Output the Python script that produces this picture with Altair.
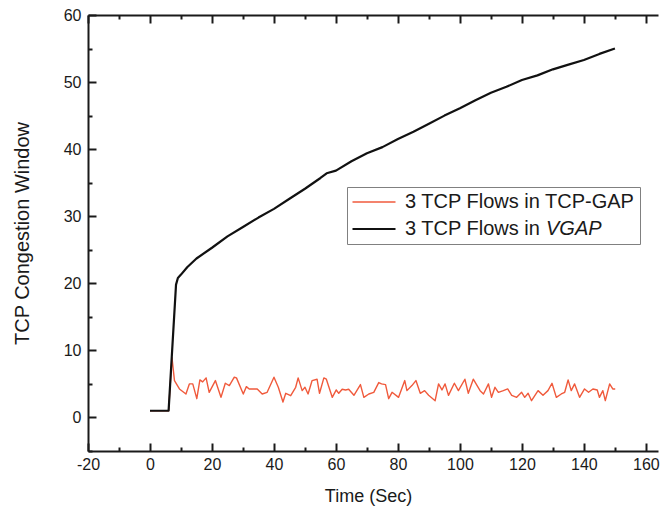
import altair as alt
import pandas as pd

# ---- data ----
black_t = [0, 6, 8.4, 9, 10, 12, 15, 20, 25, 30,
           35, 40, 45, 50, 55, 57, 60, 65, 70, 75,
           80, 85, 90, 95, 100, 105, 110, 115, 120, 125,
           130, 135, 140, 145, 150]
black_v = [1, 1, 19.8, 20.8, 21.3, 22.4, 23.7, 25.3, 27.0, 28.4,
           29.8, 31.1, 32.6, 34.1, 35.7, 36.4, 36.8, 38.2, 39.4, 40.3,
           41.5, 42.6, 43.8, 45.0, 46.1, 47.3, 48.4, 49.3, 50.3, 51.0,
           51.9, 52.6, 53.3, 54.2, 55.0]

red_t = [0, 6, 7.1, 7.9, 9.5, 11.6, 12.7, 13.8, 15.1, 16.1,
         17, 18.1, 19.1, 21.1, 22.9, 24.3, 25.6, 27.2, 27.9, 30.1,
         31.1, 32, 34.6, 36.2, 37.8, 40, 41.4, 42.9, 43.8, 45.4,
         47, 47.8, 49.1, 50, 51, 52.3, 53.9, 54.7, 56.1, 56.9,
         58.8, 60.1, 60.9, 62, 63.1, 64.1, 65.8, 67.9, 69, 70.6,
         72.2, 73.8, 74.7, 76, 77, 78.1, 80.2, 82.2, 82.9, 84.5,
         85.8, 87.2, 88.6, 89.9, 92, 93.1, 94.2, 95.2, 96.3, 98.2,
         99.5, 101.6, 102.7, 104.3, 106.5, 107.6, 109.2, 110.2, 111.3, 112.4,
         114, 115.4, 116.7, 118.3, 119.9, 120.9, 122, 123.1, 125.2, 126.8,
         128.4, 129.7, 131.1, 132.7, 133.8, 134.9, 135.9, 137, 138.6, 140.2,
         141.5, 142.9, 144.3, 145, 146.1, 146.9, 148.3, 149.3, 150.1]
red_v = [1, 1, 8.9, 5.5, 4.25, 3.5, 5.0, 5.0, 2.8, 5.6,
         5.3, 5.9, 3.75, 5.5, 3.0, 5.1, 4.75, 6.0, 5.9, 3.5,
         4.6, 4.25, 4.25, 3.5, 3.75, 6.0, 4.5, 2.3, 3.6, 3.25,
         4.5, 5.9, 4.0, 4.5, 3.5, 5.5, 5.7, 3.6, 5.9, 5.7,
         3.0, 4.1, 3.6, 4.2, 4.1, 4.2, 3.3, 4.9, 3.0, 3.5,
         3.75, 5.2, 5.0, 4.9, 2.8, 3.75, 3.0, 5.5, 4.0, 4.75,
         5.5, 3.6, 4.0, 3.3, 2.5, 5.0, 4.1, 5.0, 3.3, 5.1,
         4.0, 5.7, 3.6, 5.7, 4.0, 3.5, 5.0, 3.0, 4.5, 3.75,
         4.0, 4.25, 3.3, 3.0, 3.75, 3.0, 3.6, 2.5, 4.0, 3.3,
         4.0, 5.1, 3.0, 3.5, 3.75, 5.6, 4.0, 5.0, 3.0, 4.25,
         3.75, 4.25, 4.1, 3.0, 4.0, 2.5, 5.0, 4.25, 4.25]

# legend texts: the second label ends in an italic "VGAP"
series = ["3 TCP Flows in TCP-GAP", "3 TCP Flows in"]
italic_part = ["VGAP"]
colors = ["#f05a3c", "#111111"]

x_major = list(range(-20, 161, 20))
x_minor = list(range(-10, 161, 20))
y_major = list(range(0, 61, 10))
y_minor = list(range(-5, 60, 10))

W, H = 570, 436
FONT = "Liberation Sans"
INK = "#1a1a1a"
LFS = 20

df = pd.concat([
    pd.DataFrame({"t": red_t, "v": red_v, "s": series[0]}),
    pd.DataFrame({"t": black_t, "v": black_v, "s": series[1]}),
], ignore_index=True)

xs = alt.Scale(domain=[-20, 163.9], nice=False, zero=False)
ys = alt.Scale(domain=[-5, 60], nice=False, zero=False)

lines = alt.Chart(df).mark_line(strokeJoin="round").encode(
    x=alt.X("t:Q", scale=xs, axis=alt.Axis(
        orient="bottom", values=x_major, ticks=False, grid=False,
        labelExpr="'' + datum.value",
        labelPadding=5, labelFontSize=16, labelFont=FONT, labelColor=INK,
        labelFlush=False, labelOverlap=False,
        domainColor=INK, domainWidth=2,
        title="Time (Sec)", titleFont=FONT, titleFontSize=18,
        titleFontWeight="normal", titleColor=INK, titlePadding=15,
        titleX=280, titleAlign="center")),
    y=alt.Y("v:Q", scale=ys, axis=alt.Axis(
        orient="left", values=y_major, ticks=False, grid=False,
        labelPadding=7, labelFontSize=16, labelFont=FONT, labelColor=INK,
        labelFlush=False, labelOverlap=False,
        domainColor=INK, domainWidth=2,
        title="TCP Congestion Window", titleFont=FONT, titleFontSize=20,
        titleFontWeight="normal", titleColor=INK, titlePadding=31)),
    color=alt.Color("s:N", scale=alt.Scale(domain=series, range=colors),
                    legend=alt.Legend(
                        title=None, orient="none", legendX=259, legendY=172,
                        symbolType="stroke", symbolSize=1849, symbolStrokeWidth=2,
                        labelFont=FONT, labelFontSize=LFS, labelColor=INK,
                        labelLimit=400, labelOffset=8, padding=4,
                        clipHeight=22, rowPadding=5,
                        strokeColor="#808080")),
    strokeWidth=alt.StrokeWidth("s:N", scale=alt.Scale(domain=series, range=[1.4, 2.2]),
                                legend=None),
)

# italic tail of the second legend label
vgap = alt.Chart(pd.DataFrame({"txt": italic_part})).mark_text(
    align="left", baseline="middle", font=FONT, fontSize=LFS,
    fontStyle="italic", color=INK,
).encode(x=alt.value(458), y=alt.value(214), text="txt:N")

ext = pd.DataFrame({"t": [-20, 160], "v": [0, 60]})


def tick_axis(orient, values, size, offset, domain=False):
    return alt.Axis(orient=orient, values=values, tickSize=size, tickWidth=2,
                    tickColor=INK, offset=offset, labels=False, domain=domain,
                    domainColor=INK, domainWidth=2, grid=False, title=None)


def ghost(xaxis, yaxis):
    return alt.Chart(ext).mark_point(opacity=0).encode(
        x=alt.X("t:Q", scale=xs, axis=xaxis),
        y=alt.Y("v:Q", scale=ys, axis=yaxis),
    )


g1 = ghost(tick_axis("top", x_major, 8, -H), tick_axis("right", y_major, 8, -W))
g2 = ghost(tick_axis("top", x_minor, 4, -H), tick_axis("right", y_minor, 4, -W))
g3 = ghost(tick_axis("bottom", x_major, 8, -H, domain=True), None)
g4 = ghost(tick_axis("bottom", x_minor, 4, -H), None)

chart = alt.layer(lines, vgap, g1, g2, g3, g4).resolve_axis(
    x="independent", y="independent"
).properties(
    width=W, height=H,
    autosize=alt.AutoSizeParams(type="none"),
    padding={"left": 80, "top": 7, "right": 2, "bottom": 60},
).configure_view(stroke=None)

chart.save("out.html", embed_options={"renderer": "svg", "actions": False})
